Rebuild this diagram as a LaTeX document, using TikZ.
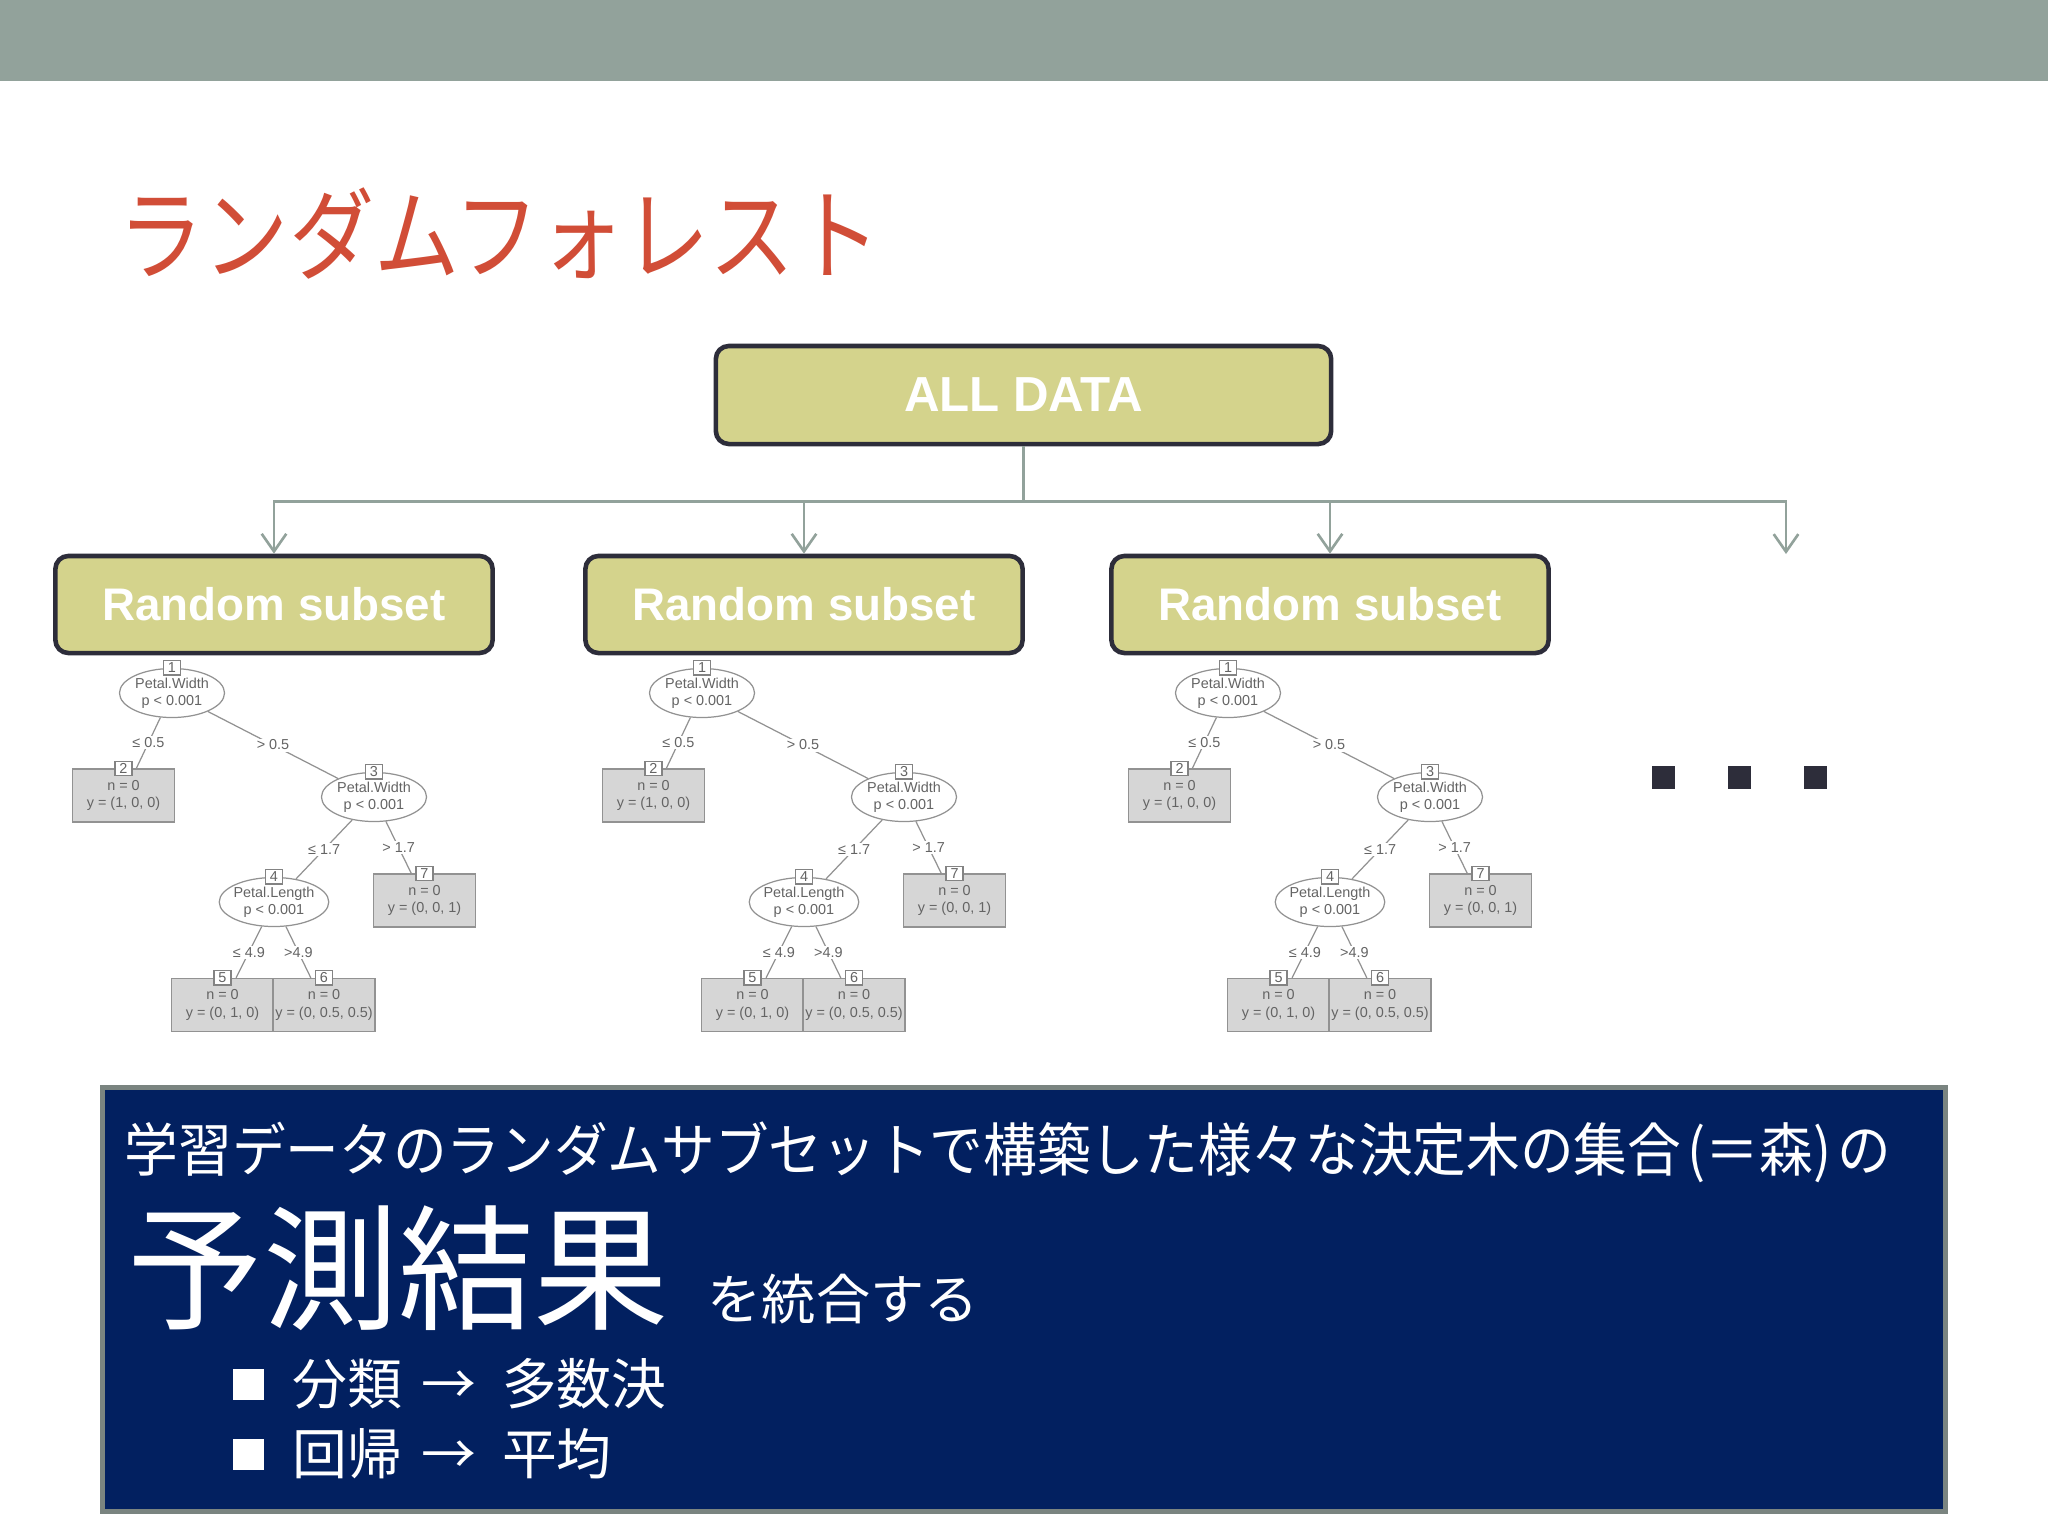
\documentclass[tikz,border=0pt]{standalone}
\usepackage{graphicx}
\usepackage{fontspec}
\setmainfont{Liberation Sans}
\newfontfamily\jpfont{Noto Sans CJK JP}
\usetikzlibrary{shapes.geometric,arrows.meta,positioning}
\definecolor{band}{RGB}{146,162,155}
\definecolor{titlered}{RGB}{209,77,55}
\definecolor{olive}{RGB}{212,211,140}
\definecolor{boxline}{RGB}{45,45,58}
\definecolor{navy}{RGB}{2,32,96}
\definecolor{navyline}{RGB}{122,132,128}
\definecolor{treegray}{RGB}{100,100,100}
\definecolor{leafgray}{RGB}{214,214,214}
\tikzset{
  databox/.style={draw=boxline,line width=1.3pt,fill=olive,rounded corners=0.13cm,text=white},
  link/.style={draw=band,line width=0.75pt,-{Straight Barb[length=5pt,width=7pt]}},
  tinytext/.style={text=treegray,align=center,font=\fontsize{4.1}{4.9}\selectfont},
  splitnode/.style={ellipse,draw=treegray!70,line width=0.35pt,fill=white,inner xsep=-0.5pt,inner ysep=0pt,minimum width=1.05cm,minimum height=0.49cm,tinytext},
  leafbox/.style={rectangle,draw=treegray!70,line width=0.35pt,fill=leafgray,inner sep=0pt,minimum width=1.02cm,minimum height=0.53cm,tinytext},
  idbox/.style={draw=treegray!80,line width=0.35pt,fill=white,inner sep=0pt,minimum width=0.17cm,minimum height=0.14cm,tinytext},
  branch/.style={draw=treegray!70,line width=0.35pt},
  cutlabel/.style={fill=white,inner sep=0.4pt,tinytext},
  etcdot/.style={fill=boxline,inner sep=0pt,minimum size=0.23cm},
  sqbullet/.style={fill=white,inner sep=0pt,minimum size=0.31cm},
  jptext/.style={anchor=west,inner sep=0pt,text=white}
}
\begin{document}
\begin{tikzpicture}[x=0.01cm,y=-0.01cm]
  \fill[white] (0,0) rectangle (2048,1536);
  \useasboundingbox (0,0) rectangle (2048,1536);
  \fill[band] (0,0) rectangle (2048,81);
  \node[anchor=west,inner sep=0pt,text=titlered,font=\jpfont\fontsize{28.5}{30}\selectfont] (title) at (118,234) {\scalebox{0.85}[1]{ランダムフォレスト}};

  \node[databox,minimum width=6.15cm,minimum height=0.98cm,font=\bfseries\fontsize{14}{16}\selectfont] (alldata) at (1023.5,395) {ALL DATA};
  \foreach \i/\x in {1/274,2/804,3/1330}
    \node[databox,minimum width=4.37cm,minimum height=0.97cm,font=\bfseries\fontsize{13}{15}\selectfont] (sub\i) at (\x,604.5) {Random subset};
  \coordinate (more) at (1786,554);
  \foreach \t in {sub1.north,sub2.north,sub3.north,more}
    \draw[link] (alldata.south) -- ++(0,55) -| (\t);

  \foreach \dx/\t in {0/a,530/b,1056/c}{
    \begin{scope}[shift={(\dx,0)},name prefix=\t]
      \node[splitnode] (n1) at (172,693) {Petal.Width\\p < 0.001};
      \node[leafbox] (n2) at (123.5,795.5) {n = 0\\y = (1, 0, 0)};
      \node[splitnode] (n3) at (374,797) {Petal.Width\\p < 0.001};
      \node[splitnode] (n4) at (274,902) {Petal.Length\\p < 0.001};
      \node[leafbox] (n5) at (222.5,1005) {n = 0\\y = (0, 1, 0)};
      \node[leafbox] (n6) at (324,1005) {n = 0\\y = (0, 0.5, 0.5)};
      \node[leafbox] (n7) at (424.5,900.5) {n = 0\\y = (0, 0, 1)};
      \foreach \a/\b/\s in {1/2/{≤ 0.5},1/3/{> 0.5},3/4/{≤ 1.7},3/7/{> 1.7},4/5/{≤ 4.9},4/6/{>4.9}}
        \draw[branch] (n\a) -- node[cutlabel] (e\b) {\s} (n\b);
      \foreach \k in {1,...,7}
        \node[idbox] (id\k) at (n\k.north) {\k};
    \end{scope}
  }

  \foreach \i/\x in {1/1663,2/1739,3/1815}
    \node[etcdot] (dot\i) at (\x,777) {};

  \node[draw=navyline,line width=1.4pt,fill=navy,minimum width=18.42cm,minimum height=4.23cm] (panel) at (1024,1299.5) {};
  \node[jptext,font=\jpfont\fontsize{16.5}{18}\selectfont] (lead) at (124,1152) {\scalebox{0.925}[1]{学習データのランダムサブセットで構築した様々な決定木の集合\hspace{0.12em}(＝森)\hspace{0.12em}の}};
  \node[anchor=base west,inner sep=0pt,text=white,font=\jpfont\fontsize{38.5}{41}\selectfont] (yosoku) at (127,1319) {予測結果};
  \node[base right=0.37cm of yosoku,inner sep=0pt,text=white,font=\jpfont\fontsize{15.4}{17}\selectfont] (tougou) {を統合する};
  \foreach \i/\y/\s in {1/1384/{分類\hspace{0.12em} → \hspace{0.25em}多数決},2/1454/{回帰\hspace{0.12em} → \hspace{0.25em}平均}}{
    \node[sqbullet] (bul\i) at (248.5,\y) {};
    \node[jptext,font=\jpfont\fontsize{15.6}{17}\selectfont] (rule\i) at (292,\y) {\s};
  }
\end{tikzpicture}
\end{document}
